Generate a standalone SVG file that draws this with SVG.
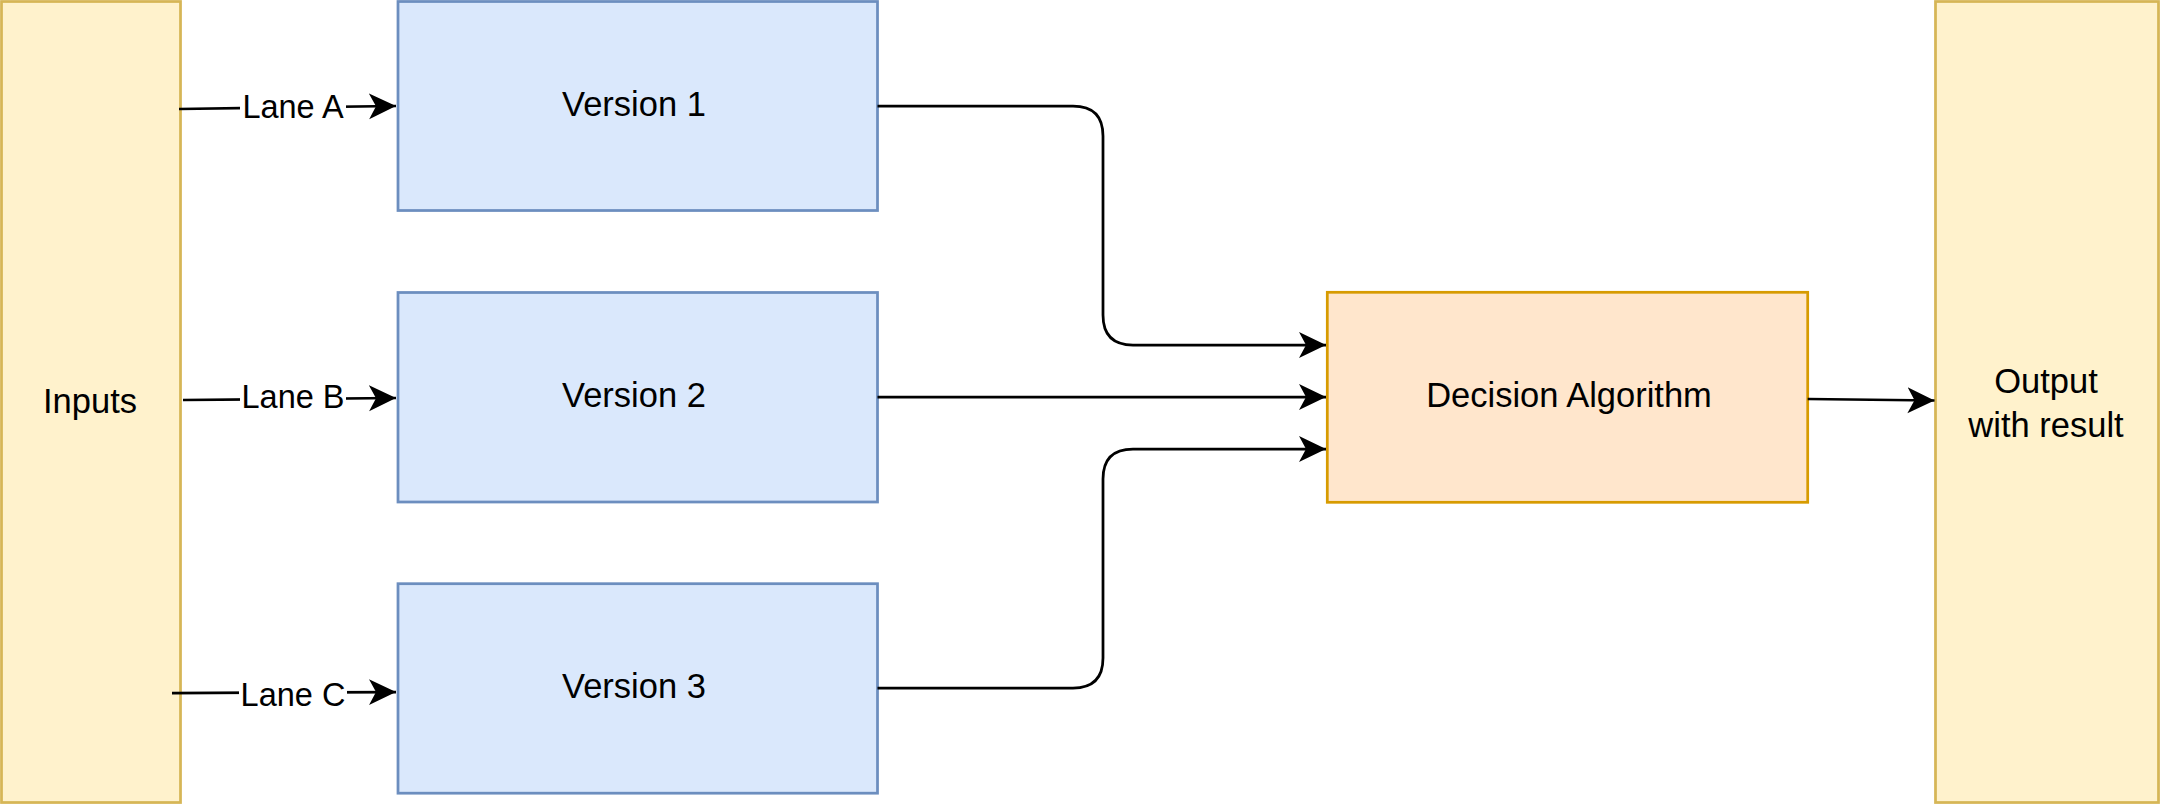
<svg xmlns="http://www.w3.org/2000/svg" width="2160" height="804" viewBox="0 0 2160 804">
<defs>
<style>
.yellow{fill:#fff2cc;stroke:#d6b656;stroke-width:2.75}
.blue{fill:#dae8fc;stroke:#6c8ebf;stroke-width:2.75}
.orange{fill:#ffe6cc;stroke:#d79b00;stroke-width:2.75}
.lbl{font-family:"Liberation Sans",Arial,sans-serif;font-size:34.5px;fill:#000;text-anchor:middle;dominant-baseline:central}
.elbl{font-family:"Liberation Sans",Arial,sans-serif;font-size:32.5px;fill:#000;text-anchor:middle;dominant-baseline:central}
.edge{fill:none;stroke:#000;stroke-width:2.75;marker-end:url(#arrow)}
</style>
<marker id="arrow" markerUnits="userSpaceOnUse" markerWidth="30" markerHeight="30" refX="27" refY="13" orient="auto">
<path d="M0,0 L27,13 L0,26 L7,13 Z" fill="#000"/>
</marker>
</defs>
<rect width="2160" height="804" fill="#fff"/>
<g id="inputs">
<rect class="yellow" x="1.5" y="1.5" width="179" height="801"/>
<text class="lbl" x="90" y="401">Inputs</text>
</g>
<g id="version1">
<rect class="blue" x="398" y="1.5" width="479.5" height="209"/>
<text class="lbl" x="634" y="104">Version 1</text>
</g>
<g id="version2">
<rect class="blue" x="398" y="292.5" width="479.5" height="209.5"/>
<text class="lbl" x="634" y="395">Version 2</text>
</g>
<g id="version3">
<rect class="blue" x="398" y="583.7" width="479.5" height="209.5"/>
<text class="lbl" x="634" y="686">Version 3</text>
</g>
<g id="decision">
<rect class="orange" x="1327.3" y="292.3" width="480.4" height="210"/>
<text class="lbl" x="1569" y="395">Decision Algorithm</text>
</g>
<g id="output">
<rect class="yellow" x="1935.5" y="1.5" width="223" height="801"/>
<text class="lbl" x="2046" y="381">Output</text>
<text class="lbl" x="2046" y="425">with result</text>
</g>
<g id="connectors">
<path class="edge" d="M179,109 L396,106"/>
<rect x="240" y="89" width="106" height="38" fill="#fff"/>
<text class="elbl" x="293" y="107">Lane A</text>
<path class="edge" d="M183,400 L396,398"/>
<rect x="240" y="378" width="106" height="38" fill="#fff"/>
<text class="elbl" x="293" y="397">Lane B</text>
<path class="edge" d="M172,693 L396,692"/>
<rect x="239" y="674" width="108" height="38" fill="#fff"/>
<text class="elbl" x="293" y="695">Lane C</text>
<path class="edge" d="M877.5,106 L1073,106 Q1103,106 1103,136 L1103,315 Q1103,345 1133,345 L1326,345"/>
<path class="edge" d="M877.5,397 L1326,397"/>
<path class="edge" d="M877.5,688 L1073,688 Q1103,688 1103,658 L1103,479 Q1103,449 1133,449 L1326,449"/>
<path class="edge" d="M1807.7,399 L1934.5,400.5"/>
</g>
</svg>
